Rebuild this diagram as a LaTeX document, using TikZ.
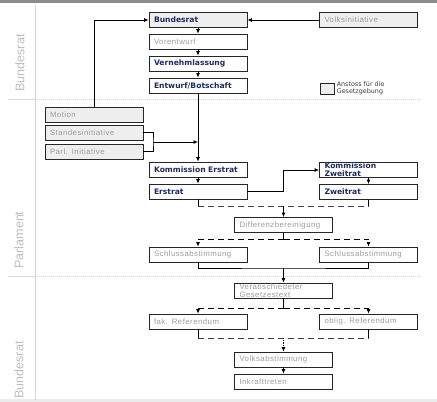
\documentclass[tikz,border=0pt]{standalone}
\usepackage{fontspec}
\setmainfont{Liberation Sans}
\newfontfamily\verd{DejaVu Sans}
\newfontfamily\grau{Liberation Sans}[LetterSpace=6]
\usepackage{xcolor}
\usetikzlibrary{arrows.meta,positioning}
\definecolor{navy}{HTML}{1C2B5E}
\definecolor{grautext}{HTML}{9C9C9C}
\definecolor{grauflaeche}{HTML}{EEEEEE}
\definecolor{grauebene}{HTML}{BDBDBD}
\definecolor{trennlinie}{HTML}{D6D6D6}

\begin{document}
\begin{tikzpicture}[x=1pt, y=-1pt, >={Latex[length=4.5pt,width=4pt]},
    kasten/.style={draw=black!85, line width=0.8pt, minimum height=15pt, inner ysep=0pt, inner xsep=5pt, text width=88pt, align=left},
    amt/.style={kasten, fill=white, font=\verd\bfseries\fontsize{7.6}{8}\selectfont, text=navy},
    ablauf/.style={kasten, fill=white, font=\grau\fontsize{7.8}{8.5}\selectfont, text=grautext},
    anstoss/.style={ablauf, fill=grauflaeche},
    ebene/.style={rotate=90, font=\fontsize{12.5}{13}\selectfont, text=grauebene},
    every path/.style={line width=0.8pt}]
    \useasboundingbox (0,0) rectangle (437,402);
    \fill[black!45] (0,0) rectangle (437,3);
    \fill[black!8] (0,399) rectangle (437,402);

    \draw[trennlinie, line width=1pt] (35,5) -- (35,400);
    \draw[trennlinie, line width=1pt] (8,99) -- (35,99);
    \draw[trennlinie, line width=1pt, densely dotted] (35,99) -- (420,99);
    \draw[trennlinie, line width=1pt] (8,276) -- (35,276);
    \draw[trennlinie, line width=1pt, densely dotted] (35,276) -- (420,276);

    \node[ebene] (ebeneoben) at (20,63) {Bundesrat};
    \node[ebene] (ebenemitte) at (19,240) {Parlament};
    \node[ebene] (ebeneunten) at (19,370) {Bundesrat};

    \node[amt, fill=grauflaeche] (bundesrat) at (198,20) {Bundesrat};
    \node[ablauf] (vorentwurf) at (198,41.5) {Vorentwurf};
    \node[amt] (vernehm) at (198,63.5) {Vernehmlassung};
    \node[amt] (entwurf) at (198,85.5) {Entwurf/Botschaft};
    \node[anstoss] (volksini) at (368.5,20) {Volksinitiative};

    \node[draw=black!85, fill=grauflaeche, minimum width=14pt, minimum height=11pt, inner sep=0pt] (legende) at (327,88.5) {};
    \node[right=2pt of legende, align=left, inner sep=0pt, text=black!75, font=\verd\fontsize{6.4}{6.6}\selectfont] (legendetext) {Anstoss für die\\Gesetzgebung};

    \node[anstoss] (motion) at (94,114.5) {Motion};
    \node[anstoss] (standes) at (94,132.5) {Standesinitiative};
    \node[anstoss] (parl) at (94,151.5) {Parl. Initiative};

    \node[amt] (kommerst) at (198,169.5) {Kommission Erstrat};
    \node[amt] (erstrat) at (198,191.5) {Erstrat};
    \node[amt] (kommzweit) at (368.5,170) {Kommission\\Zweitrat};
    \node[amt] (zweitrat) at (368.5,192) {Zweitrat};
    \node[ablauf] (differenz) at (283.5,225) {Differenzbereinigung};
    \node[ablauf] (schlussl) at (198,254.5) {Schlussabstimmung};
    \node[ablauf] (schlussr) at (368.5,254.5) {Schlussabstimmung};
    \node[ablauf] (verab) at (283.5,290.5) {Verabschiedeter\\Gesetzestext};
    \node[ablauf] (fakref) at (198,321.5) {fak. Referendum};
    \node[ablauf] (obligref) at (368.5,321.5) {oblig. Referendum};
    \node[ablauf] (volksab) at (283.5,359.5) {Volksabstimmung};
    \node[ablauf] (inkraft) at (283.5,381.5) {Inkrafttreten};

    \draw[->] (bundesrat) -- (vorentwurf);
    \draw[->] (vorentwurf) -- (vernehm);
    \draw[->] (vernehm) -- (entwurf);
    \draw[->] (volksini) -- (bundesrat);
    \draw[->] (motion.north) |- (bundesrat.west);

    \coordinate (klammer) at (153,142);
    \draw (standes.east) -| (klammer) |- (parl.east);
    \draw[->] (klammer) -- (klammer -| entwurf.south);
    \draw[->] (entwurf) -- (kommerst);
    \draw[->] (kommerst) -- (erstrat);
    \draw[->] (erstrat.east) -- ++(36,0) |- (kommzweit.west);
    \draw[->] (kommzweit) -- (zweitrat);

    \coordinate (diff) at (283.5,206);
    \draw (erstrat.south) -- (erstrat.south |- diff);
    \draw (zweitrat.south) -- (zweitrat.south |- diff);
    \draw[black!75, dash pattern=on 6pt off 4pt] (erstrat.south |- diff) -- (zweitrat.south |- diff);
    \draw[->] (diff) -- (differenz);

    \coordinate (schluss) at (283.5,239);
    \draw (differenz) -- (schluss);
    \draw[->, dash pattern=on 6pt off 4pt] (schluss) -| (schlussl.north);
    \draw[->, dash pattern=on 6pt off 4pt] (schluss) -| (schlussr.north);

    \coordinate (verabsch) at (283.5,268);
    \draw (schlussl.south) |- (verabsch) -| (schlussr.south);
    \draw[->] (verabsch) -- (verab);

    \coordinate (referendum) at (283.5,308);
    \draw (verab) -- (referendum);
    \draw[->, dash pattern=on 6pt off 4pt] (referendum) -| (fakref.north);
    \draw[->, dash pattern=on 6pt off 4pt] (referendum) -| (obligref.north);

    \coordinate (abstimmung) at (283.5,338);
    \draw (fakref.south) -- (fakref.south |- abstimmung);
    \draw (obligref.south) -- (obligref.south |- abstimmung);
    \draw[black!75, dash pattern=on 6pt off 4pt] (fakref.south |- abstimmung) -- (obligref.south |- abstimmung);
    \draw[->, densely dotted] (abstimmung) -- (volksab);
    \draw[->] (volksab) -- (inkraft);
\end{tikzpicture}
\end{document}
